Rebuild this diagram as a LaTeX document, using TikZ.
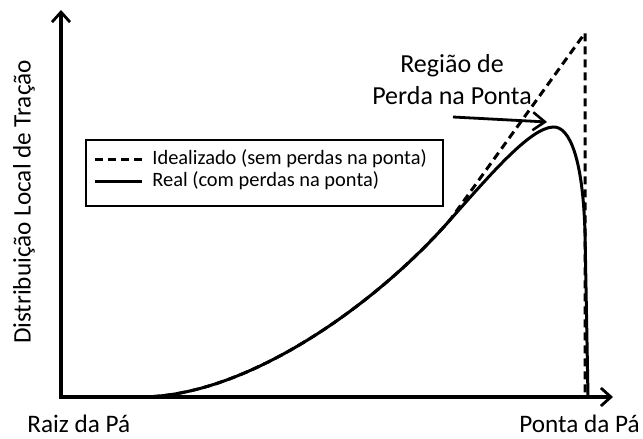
\documentclass[tikz,border=0pt]{standalone}
\usepackage{fontspec}
\setmainfont{Carlito}
\usetikzlibrary{arrows.meta}

\tikzset{
	axis/.style = {line width=1.7pt, line join=miter,
		{Straight Barb[length=5pt, width=9pt, line width=1.4pt]}-{Straight Barb[length=5pt, width=9pt, line width=1.4pt]}},
	pointer/.style = {line width=1.4pt, -{Straight Barb[length=6pt, width=9pt, line width=1.3pt]}},
	ideal/.style = {line width=1.5pt, dash pattern=on 4pt off 2.5pt},
	real/.style = {line width=1.5pt},
	lbl/.style = {font=\fontsize{12.6}{16}\selectfont, inner sep=0pt},
	leg/.style = {font=\fontsize{10.2}{13}\selectfont, inner sep=0pt, anchor=west},
}

\begin{document}
\begin{tikzpicture}[x=0.5pt, y=-0.5pt]
\useasboundingbox (0,0) rectangle (643,439);

\coordinate (origin) at (61,397);
\coordinate (ytop) at (61,10);
\coordinate (xtip) at (613,397);
\coordinate (bend) at (450,220);
\coordinate (peak) at (553,127);
\coordinate (tip) at (585,33);
\coordinate (tipbase) at (585,397);
\coordinate (regstart) at (453,117);
\coordinate (regend) at (547,122);

% idealizado
\draw[ideal] (origin) -- (140,397) .. controls (250,397) and (380,300) ..
	(bend) --
	(tip) --
	(tipbase);

% real
\draw[real] (origin) -- (140,397) .. controls (250,397) and (380,300) ..
	(bend) .. controls (490,175) and (530,128) ..
	(peak) .. controls (570,126) and (583,160) ..
	(585,233) --
	(588,397);

\draw[axis] (ytop) -- (origin) -- (xtip);

\node[lbl, rotate=90] (ylabel) at (24,202) {Distribuição Local de Tração};
\node[lbl, anchor=base west] (root) at (27,432) {Raiz da Pá};
\node[lbl, anchor=base east] (tiplabel) at (640,432) {Ponta da Pá};

\node[lbl, font=\fontsize{13}{16}\selectfont, align=center] (region) at (452,80) {Região de\\Perda na Ponta};
\draw[pointer] (regstart) -- (regend);

% legenda
\node[draw, line width=1.1pt, minimum width=178.5pt, minimum height=33pt,
	inner sep=0pt, anchor=north west] (legend) at (85,139) {};
\draw[ideal] (95,159) -- (142,159);
\draw[real] (95,181) -- (142,181);
\node[leg] (legideal) at (152,159) {Idealizado (sem perdas na ponta)};
\node[leg] (legreal) at (152,181) {Real (com perdas na ponta)};
\end{tikzpicture}
\end{document}
